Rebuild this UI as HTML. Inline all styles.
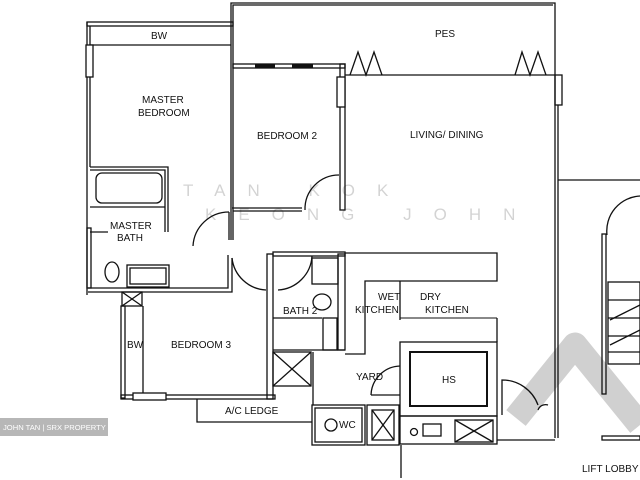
<!DOCTYPE html>
<html><head><meta charset="utf-8"><style>
html,body{margin:0;padding:0;background:#fff;width:640px;height:480px;overflow:hidden}
svg{display:block}
text{font-family:"Liberation Sans",sans-serif;font-size:10px;fill:#111}
</style></head><body>
<svg width="640" height="480" viewBox="0 0 640 480" xmlns="http://www.w3.org/2000/svg">
<rect width="640" height="480" fill="#fff"/>
<!-- watermark chevron -->
<polyline points="516,418 575,345 640,425" fill="none" stroke="#d0d0d0" stroke-width="25" stroke-linejoin="round"/>
<g fill="none" stroke="#111" stroke-width="1.3">
<!-- PES -->
<polyline points="231,240 231,3 555,3 555,75"/>
<polyline points="233,240 233,5 553,5"/>
<line x1="345" y1="75" x2="555" y2="75"/>
<polyline points="350,75 358,52 366,75 374,52 382,75"/>
<polyline points="515,75 522,52 530,75 538,52 546,75"/>
<!-- living right wall -->
<line x1="555" y1="75" x2="555" y2="438"/><line x1="558" y1="105" x2="558" y2="438"/>
<rect x="555" y="75" width="7" height="30"/>
<line x1="558" y1="180" x2="640" y2="180"/>
<path d="M607,235 A35,35 0 0 1 640,196"/>
<rect x="602" y="234" width="4" height="160"/>
<rect x="608" y="282" width="32" height="82"/>
<line x1="608" y1="300" x2="640" y2="300"/><line x1="608" y1="318" x2="640" y2="318"/><line x1="608" y1="336" x2="640" y2="336"/><line x1="608" y1="352" x2="640" y2="352"/>
<polyline points="610,345 640,330"/><polyline points="610,320 640,305"/>
<rect x="602" y="436" width="38" height="4"/>
<!-- master bedroom -->
<rect x="87" y="22" width="146" height="4"/>
<line x1="90" y1="45" x2="231" y2="45"/>
<line x1="87" y1="22" x2="87" y2="295"/><line x1="90" y1="26" x2="90" y2="167"/>
<rect x="86" y="45" width="7" height="32" fill="#fff"/>
<polyline points="90,167 168,167 168,232"/><polyline points="90,170 165,170 165,232"/>
<rect x="96" y="173" width="66" height="30" rx="6"/>
<line x1="90" y1="207" x2="165" y2="207"/>
<line x1="90" y1="232" x2="108" y2="232"/>
<rect x="87" y="228" width="4" height="60"/>
<ellipse cx="112" cy="272" rx="7" ry="10"/>
<rect x="127" y="265" width="42" height="22"/><rect x="130" y="268" width="36" height="16"/>
<!-- bedroom 2 -->
<rect x="233" y="64" width="112" height="4"/>
<rect x="340" y="64" width="5" height="146"/>
<rect x="337" y="77" width="8" height="30" fill="#fff"/>
<line x1="255" y1="66" x2="275" y2="66" stroke-width="3"/><line x1="292" y1="66" x2="313" y2="66" stroke-width="3"/>
<polyline points="232,208 302,208"/><polyline points="233,211 302,211"/>
<path d="M305,210 A34,34 0 0 1 339,175"/>
<!-- hall doors -->
<path d="M193,246 A36,36 0 0 1 229,212"/>
<line x1="229" y1="212" x2="229" y2="240"/>
<path d="M232,258 A36,36 0 0 0 266,290"/>
<path d="M278,290 A36,36 0 0 0 312,256"/>
<!-- bedroom3 -->
<polyline points="88,288 228,288 228,255"/><polyline points="88,292 232,292 232,258"/>
<rect x="122" y="292" width="20" height="14"/><line x1="122" y1="292" x2="142" y2="306"/><line x1="142" y1="292" x2="122" y2="306"/>
<rect x="121" y="306" width="4" height="92"/>
<line x1="143" y1="306" x2="143" y2="395"/>
<rect x="121" y="395" width="154" height="4"/>
<rect x="133" y="393" width="33" height="7" fill="#fff"/>
<rect x="267" y="254" width="6" height="145"/>
<!-- a/c ledge -->
<polyline points="197,399 197,422 312,422"/>
<!-- bath2 -->
<rect x="273" y="252" width="72" height="4"/>
<rect x="338" y="254" width="7" height="96"/>
<rect x="312" y="258" width="26" height="26"/>
<ellipse cx="322" cy="302" rx="9" ry="8"/>
<line x1="273" y1="318" x2="322" y2="318"/>
<rect x="323" y="318" width="14" height="32"/>
<line x1="273" y1="350" x2="345" y2="350"/>
<rect x="273" y="352" width="38" height="34"/><line x1="273" y1="352" x2="311" y2="386"/><line x1="311" y1="352" x2="273" y2="386"/>
<line x1="313" y1="352" x2="313" y2="405"/>
<!-- kitchen -->
<polyline points="345,253 497,253 497,281 365,281 365,354 345,354"/>
<line x1="400" y1="281" x2="400" y2="320"/>
<line x1="400" y1="318" x2="497" y2="318" stroke-width="1"/>
<line x1="497" y1="318" x2="497" y2="342"/>
<rect x="400" y="342" width="97" height="74"/>
<rect x="410" y="352" width="77" height="54" stroke-width="2"/>
<path d="M371,395 A30,30 0 0 1 400,366"/>
<line x1="371" y1="395" x2="400" y2="395"/>
<!-- wc & service -->
<rect x="312" y="405" width="53" height="40"/>
<rect x="315" y="408" width="47" height="34"/>
<circle cx="331" cy="425" r="6"/>
<rect x="367" y="405" width="32" height="40"/>
<rect x="372" y="410" width="22" height="30"/><line x1="372" y1="410" x2="394" y2="440"/><line x1="394" y1="410" x2="372" y2="440"/>
<rect x="400" y="416" width="97" height="28"/>
<circle cx="414" cy="432" r="3.5"/>
<rect x="423" y="424" width="18" height="12"/>
<rect x="455" y="420" width="38" height="22"/><line x1="455" y1="420" x2="493" y2="442"/><line x1="493" y1="420" x2="455" y2="442"/>
<line x1="497" y1="440" x2="555" y2="440"/>
<path d="M502,415 L502,380 A38,38 0 0 1 538,405"/>
<path d="M538,410 A8,8 0 0 1 548,405"/>
<line x1="401" y1="445" x2="401" y2="478"/>
</g>
<!-- labels -->
<text x="151" y="39">BW</text>
<text x="435" y="37">PES</text>
<text x="142" y="103">MASTER</text>
<text x="138" y="116">BEDROOM</text>
<text x="257" y="139">BEDROOM 2</text>
<text x="410" y="138">LIVING/ DINING</text>
<text x="110" y="229">MASTER</text>
<text x="117" y="241">BATH</text>
<text x="283" y="314">BATH 2</text>
<text x="378" y="300">WET</text>
<text x="355" y="313">KITCHEN</text>
<text x="420" y="300">DRY</text>
<text x="425" y="313">KITCHEN</text>
<text x="127" y="348">BW</text>
<text x="171" y="348">BEDROOM 3</text>
<text x="356" y="380">YARD</text>
<text x="442" y="383">HS</text>
<text x="225" y="414">A/C LEDGE</text>
<text x="339" y="428">WC</text>
<text x="582" y="472">LIFT LOBBY</text>
<g opacity="0.18">
<text x="183" y="196" style="font-size:17px;letter-spacing:22px">TAN KOK</text>
<text x="205" y="220" style="font-size:17px;letter-spacing:22px">KEONG JOHN</text>
</g>
<rect x="0" y="418" width="108" height="18" fill="#b7b7b7"/>
<text x="3" y="430" style="font-size:7.6px;fill:#fff">JOHN TAN | SRX PROPERTY</text>
</svg>
</body></html>
